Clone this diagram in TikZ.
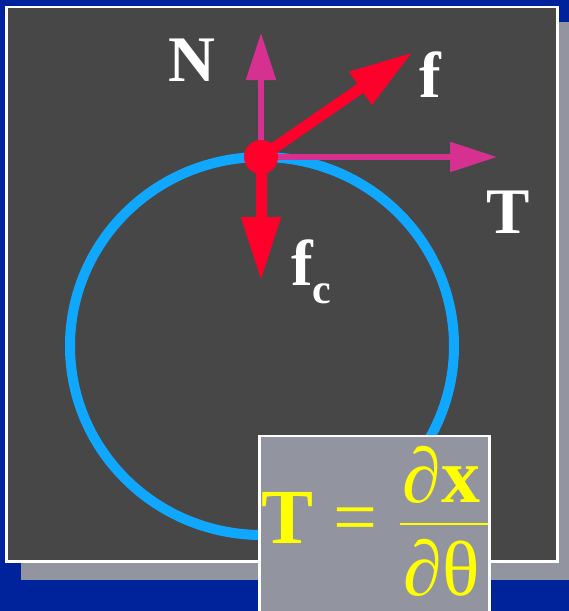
\documentclass[tikz,border=0pt]{standalone}
\usepackage{fontspec}
\setmainfont{Liberation Serif}
\usetikzlibrary{arrows.meta}

\definecolor{bgblue}{RGB}{0,34,154}
\definecolor{panelgrey}{RGB}{71,71,71}
\definecolor{shadowgrey}{RGB}{146,148,159}
\definecolor{ringblue}{RGB}{16,168,255}
\definecolor{forcered}{RGB}{255,0,42}
\definecolor{forcepink}{RGB}{214,48,144}
\definecolor{formyellow}{RGB}{255,255,0}

\tikzset{
  pinkarrow/.style={forcepink, line width=5.5pt, -{Triangle[length=47pt,width=29pt]}},
  redarrow/.style={forcered, line width=11pt, -{Triangle[length=64pt,width=37pt]}},
  forcelabel/.style={white, font=\fontsize{65}{70}\selectfont\bfseries, inner sep=0pt, anchor=base},
  formtext/.style={formyellow, font=\fontsize{78}{80}\selectfont, inner sep=0pt, anchor=base}
}

\begin{document}
\begin{tikzpicture}[x=1pt,y=-1pt]

% Khung
\useasboundingbox (0,0) rectangle (569,611);
\clip (0,0) rectangle (569,611);

% Nen va bong
\fill[bgblue] (0,0) rectangle (569,611);
\fill[shadowgrey] (21,22) rectangle (569,580);
\draw[white, line width=2.5pt, fill=panelgrey] (6.5,7) rectangle (557.5,561.5);

% Vong tron
\coordinate (O) at (262,346);
\draw[ringblue, line width=10pt] (O) ellipse [x radius=192pt, y radius=189pt];

% Cac diem
\coordinate (P) at (261,157);
\coordinate (N) at (261,33);
\coordinate (T) at (497,157);
\coordinate (F) at (413,52);
\coordinate (Fc) at (261,281);

% Luc
\draw[pinkarrow] (P) -- (N);
\draw[pinkarrow] (P) -- (T);
\draw[redarrow] (P) -- (F);
\draw[redarrow] (P) -- (Fc);
\fill[forcered] (P) circle[radius=17pt];

% Nhan
\node[forcelabel] (labN) at (191.5,81) {N};
\node[forcelabel] (labf) at (430.5,97) {f};
\node[forcelabel] (labT) at (508,233) {T};
\node[forcelabel, anchor=base west] (labfc) at (291,285) {f\raisebox{-18pt}{\fontsize{42}{42}\selectfont c}};

% Cong thuc
\draw[white, line width=2.5pt, fill=shadowgrey] (259.7,436) rectangle (489.5,620);
\node[formtext] (fT) at (287.5,543) {\textbf{T}};
\node[formtext] (feq) at (355.5,543) {=};
\node[formtext] (fnum) at (441.5,502) {∂\textbf{x}};
\node[formtext] (fden) at (441.5,595) {∂θ};
\draw[formyellow, line width=2pt] (400,524) -- (487.5,524);

\end{tikzpicture}
\end{document}
